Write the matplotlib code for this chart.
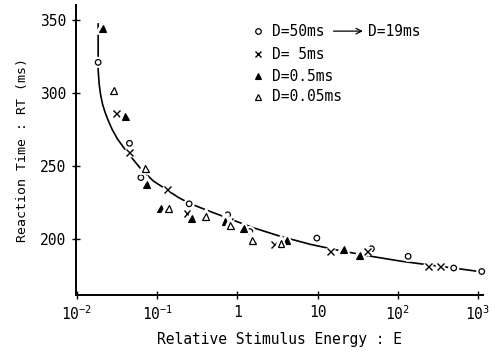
import matplotlib
matplotlib.use("Agg")
import matplotlib.pyplot as plt
import matplotlib.patheffects as pe

plt.rcParams["font.family"] = ["DejaVu Sans Mono"]
plt.rcParams["mathtext.default"] = "regular"

# ----------------------------------------------------
# Data
# ----------------------------------------------------
circ_E = [0.0183, 0.045, 0.0625, 0.25, 0.757, 1.43, 9.8, 47, 135, 500, 1120]
circ_RT = [321, 265.5, 242, 224, 216.5, 205, 200.5, 193.2, 188, 180, 177.6]

cross_E = [0.0313, 0.045, 0.135, 0.235, 0.80, 2.9, 14.5, 41.8, 240, 345]
cross_RT = [286, 259, 234, 217.6, 212, 196, 191.3, 191.3, 181, 181]

ftri_E = [0.021, 0.040, 0.0743, 0.111, 0.27, 0.71, 1.2, 4.1, 21.3, 33.8]
ftri_RT = [344, 284, 237.5, 221, 214.2, 212, 207.3, 198.8, 192.5, 188.4]

otri_E = [0.0285, 0.0708, 0.14, 0.40, 0.818, 1.54, 3.5]
otri_RT = [302, 248.4, 221, 215.3, 209, 198.8, 196.6]

# fitted curve
curve_E = [0.01831, 0.01831, 0.01884, 0.01967, 0.02083, 0.02239, 0.02441,
           0.02738, 0.03162, 0.03758, 0.04504, 0.06254, 0.08913, 0.1322,
           0.1831, 0.2533, 0.4217, 0.7434, 1.599, 3.447, 8.175, 19.39,
           46.9, 109.0, 203.6, 578.8, 1029]
curve_RT = [347.3, 315.8, 306.2, 298.6, 292.1, 286.6, 281.2, 275.0, 268.8,
            263.0, 257.5, 247.9, 239.7, 233.6, 228.4, 224.3, 219.5, 214.4,
            207.5, 201.7, 196.2, 191.8, 188.0, 184.7, 182.7, 179.5, 177.6]

legend_labels = ["D=50ms", "D= 5ms", "D=0.5ms", "D=0.05ms"]
x_ticks = [1e-2, 1e-1, 1, 10, 1e2, 1e3]
x_ticklabels = ["$10^{-2}$", "$10^{-1}$", "1", "10", "$10^{2}$", "$10^{3}$"]
y_ticks = [200, 250, 300, 350]

# ----------------------------------------------------
# Plot
# ----------------------------------------------------
fig = plt.figure(figsize=(5.04, 3.6), dpi=100)
ax = fig.add_axes([0.151, 0.181, 0.807, 0.805])

ax.plot(curve_E, curve_RT, color="black", lw=1.2, zorder=1)

halo = [pe.withStroke(linewidth=4, foreground="white")]
styles = [
    dict(marker="o", ms=4, mfc="white", mec="black", mew=0.9),
    dict(marker="x", ms=5, mec="black", mew=1.0),
    dict(marker="^", ms=5, mfc="black", mec="black", mew=0.8),
    dict(marker="^", ms=5, mfc="white", mec="black", mew=0.9),
]
series = [(circ_E, circ_RT), (cross_E, cross_RT),
          (ftri_E, ftri_RT), (otri_E, otri_RT)]

for (xs, ys), st in zip(series, styles):
    ax.plot(xs, ys, ls="none", zorder=3, clip_on=False,
            path_effects=halo, **st)

ax.set_xscale("log")
ax.set_xlim(10 ** -2.0125, 10 ** 3.0625)
ax.set_ylim(161.6, 360.3)
ax.set_xticks(x_ticks)
ax.set_xticklabels(x_ticklabels)
ax.set_yticks(y_ticks)
ax.minorticks_off()
ax.tick_params(direction="inout", length=6, width=1, labelsize=10.5,
               pad=4)

for side in ["top", "right"]:
    ax.spines[side].set_visible(False)
for side in ["left", "bottom"]:
    ax.spines[side].set_linewidth(1.4)

ax.set_xlabel("Relative Stimulus Energy : E", fontsize=10.5, labelpad=6)
ax.set_ylabel("Reaction Time : RT (ms)", fontsize=9.5, labelpad=8)

# ----------------------------------------------------
# Legend (drawn by hand)
# ----------------------------------------------------
row_y = [0.910, 0.831, 0.755, 0.683]
for st, lab, yy in zip(styles, legend_labels, row_y):
    ax.plot([0.446], [yy], transform=ax.transAxes, ls="none", **st)
    ax.text(0.481, yy, lab, transform=ax.transAxes, fontsize=10.5,
            va="center", ha="left")

ax.annotate("", xy=(0.712, row_y[0]), xytext=(0.626, row_y[0]),
            xycoords="axes fraction",
            arrowprops=dict(arrowstyle="->", color="black", lw=0.9))
ax.text(0.717, row_y[0], "D=19ms", transform=ax.transAxes, fontsize=10.5,
        va="center", ha="left")

fig.savefig("out.png", dpi=100)
